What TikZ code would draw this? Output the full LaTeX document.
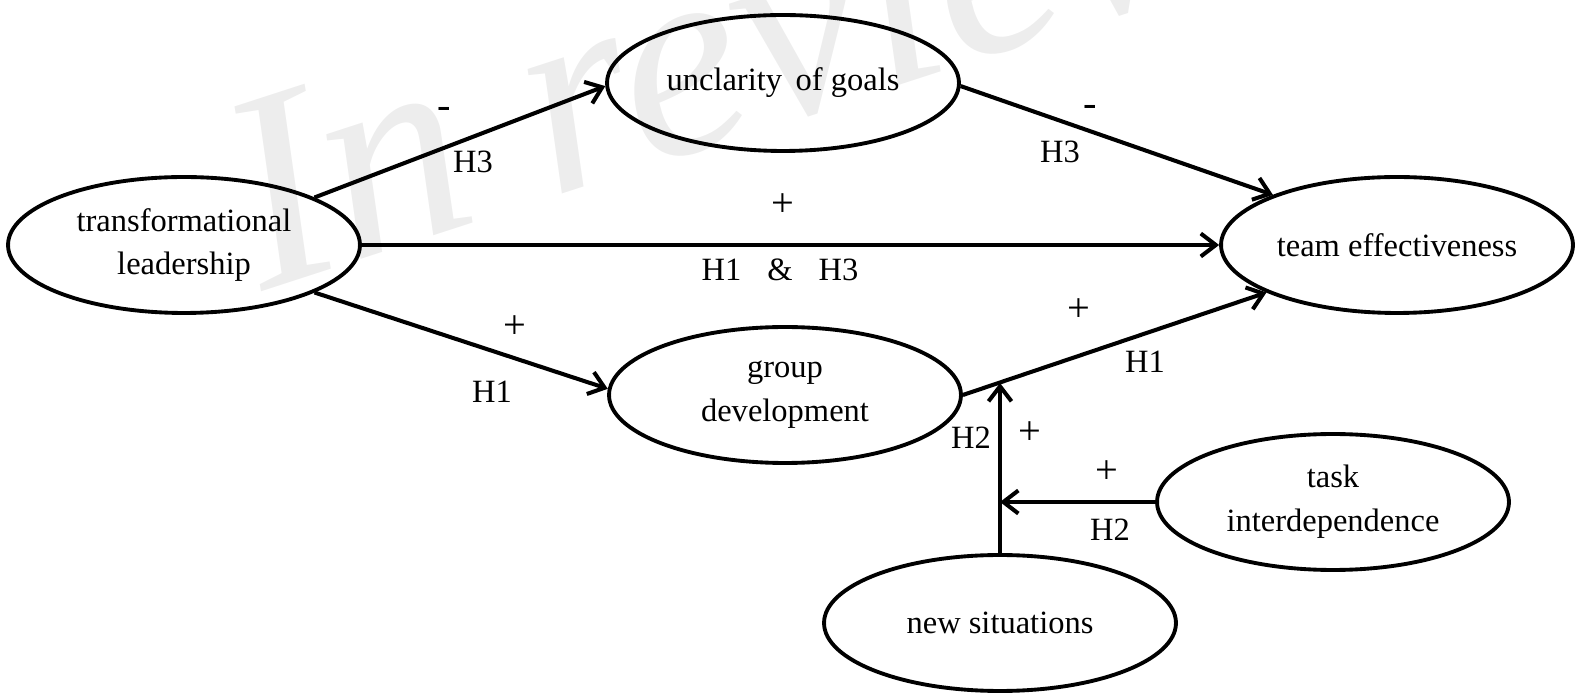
\documentclass[tikz,border=0pt]{standalone}
\usepackage{fontspec}
\setmainfont{Liberation Serif}
\usetikzlibrary{positioning,arrows.meta,shapes.geometric}

\begin{document}
\begin{tikzpicture}[
  x=0.02cm, y=-0.02cm,
  font=\fontsize{18.5}{25}\selectfont,
  >={Straight Barb[length=3mm,width=4.6mm]},
  varnode/.style={ellipse, draw=black, line width=2.2pt, inner sep=0pt, align=center,
                  minimum width=7.04cm, minimum height=2.72cm},
  effarrow/.style={->, draw=black, line width=2.3pt},
  plusminus/.style={inner sep=1pt, font=\fontsize{23}{25}\selectfont},
  hyplabel/.style={inner sep=1pt}
]
  \useasboundingbox (0,0) rectangle (1576,695);
  % watermark
  \node[anchor=base west, rotate=18, text=black!7, inner sep=0pt,
        font=\fontsize{160}{160}\selectfont\itshape] (wmark) at (262,292) {In review};

  \node[varnode] (tl) at (184,245) {transformational\\leadership};
  \node[varnode] (uc) at (783,83) {unclarity\, of goals};
  \node[varnode] (te) at (1397,245) {team effectiveness};
  \node[varnode] (gd) at (785,395) {group\\development};
  \node[varnode] (ti) at (1333,502) {task\\interdependence};
  \node[varnode] (ns) at (1000,623) {new situations};

  \coordinate (modup) at (1000,383);
  \coordinate (modleft) at (1000,502);

  \draw[effarrow] (tl.20) -- (uc.181);
  \draw[effarrow] (tl.east) -- (te.west);
  \draw[effarrow] (tl.-20) -- (gd.178);
  \draw[effarrow] (uc.-1) -- (te.158);
  \draw[effarrow] (gd.east) -- (te.200);
  \draw[effarrow] (ns) -- (modup);
  \draw[effarrow] (ti) -- (modleft);

  \node[plusminus] (s1) at (444,113) {-};
  \node[hyplabel] (h1) at (473,162) {H3};
  \node[plusminus] (s2) at (783,205) {+};
  \node[hyplabel] (h2) at (780,270) {H1\hspace{0.8em}\&\hspace{0.8em}H3};
  \node[plusminus] (s3) at (515,327) {+};
  \node[hyplabel] (h3) at (492,392) {H1};
  \node[plusminus] (s4) at (1090,111) {-};
  \node[hyplabel] (h4) at (1060,152) {H3};
  \node[plusminus] (s5) at (1079,310) {+};
  \node[hyplabel] (h5) at (1145,362) {H1};
  \node[hyplabel] (h6) at (971,438) {H2};
  \node[plusminus] (s6) at (1030,433) {+};
  \node[plusminus] (s7) at (1107,472) {+};
  \node[hyplabel] (h7) at (1110,530) {H2};
\end{tikzpicture}
\end{document}
